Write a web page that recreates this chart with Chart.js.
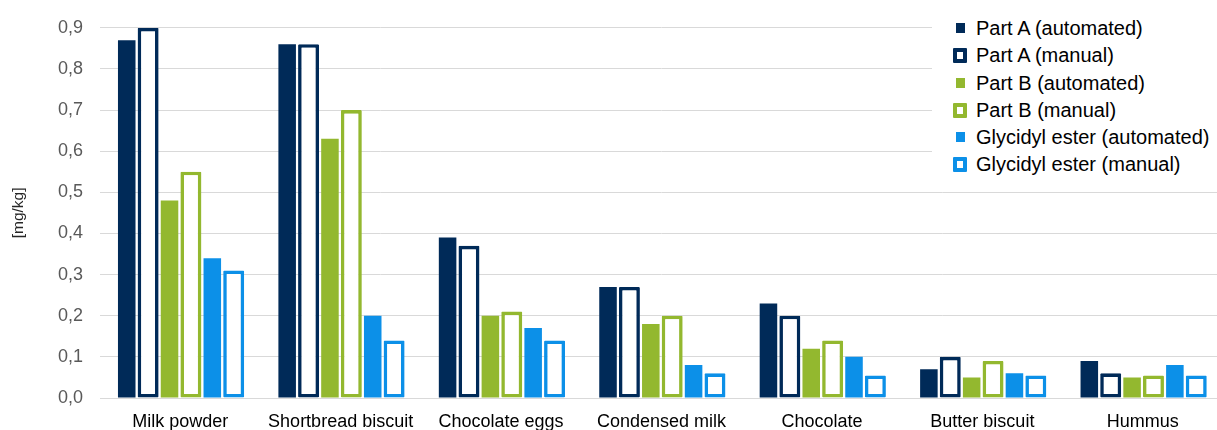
<!DOCTYPE html>
<html>
<head>
<meta charset="utf-8">
<script src="https://cdn.jsdelivr.net/npm/chart.js@4/dist/chart.umd.min.js"></script>
<style>
  html, body { margin: 0; padding: 0; background: #fff; overflow: hidden; }
  #wrap { position: relative; width: 1223px; height: 430px; }
  #legend {
    position: absolute; left: 932px; top: 0; width: 300px; height: 186px;
    background: #fff; padding-top: 15px; box-sizing: border-box;
    font-family: 'Liberation Sans', Arial, sans-serif; font-size: 20px; color: #000;
  }
  .item { height: 27.3px; line-height: 27.3px; position: relative; white-space: nowrap; }
  .item span.box { position: absolute; box-sizing: border-box; }
  .item span.txt { position: absolute; left: 44px; }
</style>
</head>
<body>
<div id="wrap">
  <canvas id="chart"></canvas>
  <div id="legend"></div>
</div>
<script>
const categories = ["Milk powder", "Shortbread biscuit", "Chocolate eggs", "Condensed milk", "Chocolate", "Butter biscuit", "Hummus"];
const yTickLabels = ["0,0", "0,1", "0,2", "0,3", "0,4", "0,5", "0,6", "0,7", "0,8", "0,9"];

const partAAuto = [0.87, 0.86, 0.39, 0.27, 0.23, 0.07, 0.09];
const partAManual = [0.90, 0.86, 0.37, 0.27, 0.20, 0.10, 0.06];
const partBAuto = [0.48, 0.63, 0.20, 0.18, 0.12, 0.05, 0.05];
const partBManual = [0.55, 0.70, 0.21, 0.20, 0.14, 0.09, 0.055];
const glyAuto = [0.34, 0.20, 0.17, 0.08, 0.10, 0.06, 0.08];
const glyManual = [0.31, 0.14, 0.14, 0.06, 0.055, 0.055, 0.055];

const seriesLabels = ["Part A (automated)", "Part A (manual)", "Part B (automated)", "Part B (manual)", "Glycidyl ester (automated)", "Glycidyl ester (manual)"];

const NAVY = "#002a58";
const GREEN = "#93b82f";
const BLUE = "#0c90e8";

function filled(label, data, color) {
  return {
    label: label, data: data,
    backgroundColor: color, borderWidth: 0,
    barPercentage: 0.82, categoryPercentage: 0.8,
  };
}
function outlined(label, data, color) {
  return {
    label: label, data: data,
    backgroundColor: "#fff", borderColor: color, borderWidth: 3.6,
    borderSkipped: false, borderRadius: 1,
    barPercentage: 0.98, categoryPercentage: 0.8,
  };
}

Chart.defaults.font.family = "'Liberation Sans', Arial, sans-serif";

const datasets = [
  filled(seriesLabels[0], partAAuto, NAVY),
  outlined(seriesLabels[1], partAManual, NAVY),
  filled(seriesLabels[2], partBAuto, GREEN),
  outlined(seriesLabels[3], partBManual, GREEN),
  filled(seriesLabels[4], glyAuto, BLUE),
  outlined(seriesLabels[5], glyManual, BLUE),
];

const ctx = document.getElementById("chart").getContext("2d");
window.chart = new Chart(ctx, {
  type: "bar",
  data: { labels: categories, datasets: datasets },
  options: {
    responsive: true,
    maintainAspectRatio: false,
    animation: false,
    layout: { padding: { top: 24, right: 0, bottom: 0, left: 0 } },
    plugins: { legend: { display: false }, tooltip: { enabled: false } },
    scales: {
      x: {
        grid: { display: false, drawTicks: false },
        border: { display: true, color: "#d9d9d9" },
        ticks: { color: "#000", font: { size: 18 }, padding: 13, maxRotation: 0, autoSkip: false },
        afterFit: (scale) => { scale.height = 32; },
      },
      y: {
        min: 0, max: 0.9,
        grid: { color: "#d9d9d9", drawTicks: false },
        border: { display: false },
        ticks: {
          stepSize: 0.1, color: "#595959", font: { size: 18 }, padding: 17,
          callback: (v, i) => yTickLabels[i],
        },
        title: {
          display: true, text: "[mg/kg]", color: "#262626",
          font: { size: 15.5 }, padding: { top: 9, bottom: 0 },
        },
        afterFit: (scale) => { scale.width = 100; },
      },
    },
  },
});

// legend drawn as html over the chart (white box hides the gridlines under it)
const legend = document.getElementById("legend");
datasets.forEach((ds) => {
  const row = document.createElement("div");
  row.className = "item";
  const box = document.createElement("span");
  box.className = "box";
  const isOutline = ds.backgroundColor === "#fff";
  if (isOutline) {
    box.style.cssText = `left:21px;top:6px;width:14px;height:15px;border:4px solid ${ds.borderColor};background:#fff;border-radius:1px;`;
  } else {
    box.style.cssText = `left:24px;top:8px;width:9px;height:10px;background:${ds.backgroundColor};`;
  }
  const txt = document.createElement("span");
  txt.className = "txt";
  txt.textContent = ds.label;
  row.appendChild(box);
  row.appendChild(txt);
  legend.appendChild(row);
});
</script>
</body>
</html>
